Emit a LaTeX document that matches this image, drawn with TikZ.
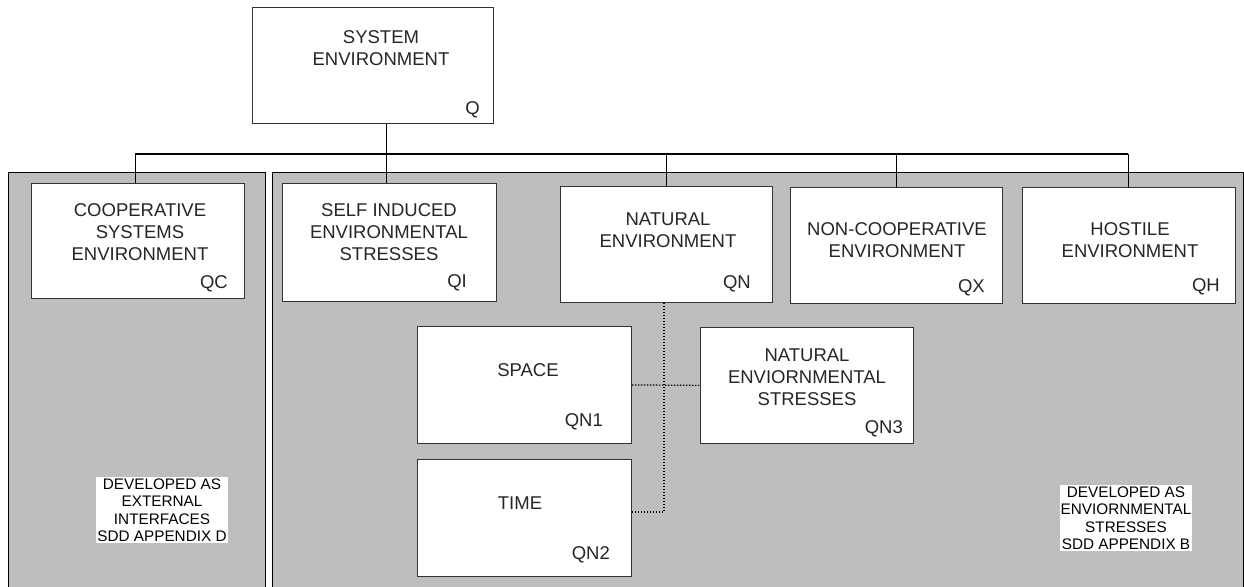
\documentclass[tikz,border=0pt]{standalone}
\usepackage{fontspec}
\setmainfont{Liberation Sans}
\definecolor{panelgray}{RGB}{190,190,190}
\begin{document}
\begin{tikzpicture}[x=1pt,y=-1pt,
  panel/.style={draw=black, line width=1pt, fill=panelgray},
  box/.style={draw=black!80, line width=0.8pt, fill=white, inner sep=0pt, anchor=north west},
  title/.style={font=\fontsize{18.5}{22}\selectfont, align=center, text=black!85, inner sep=0pt},
  code/.style={font=\fontsize{18.5}{22}\selectfont, text=black!85, inner sep=0pt, anchor=base east},
  note/.style={fill=white, font=\fontsize{15.3}{17.5}\selectfont, align=center, text=black, inner xsep=1pt, inner ysep=1.5pt},
  bus/.style={draw=black, line width=1.3pt},
  stem/.style={draw=black, line width=1pt},
  tree/.style={draw=black, line width=1.2pt, dash pattern=on 1.5pt off 1.5pt}]
\useasboundingbox (0,0) rectangle (1244,586);
\clip (0,0) rectangle (1244,586);
% background panels
\path[panel] (8,172) rectangle (265,600);
\path[panel] (272,172) rectangle (1243,600);
% boxes
\node[box, minimum width=241pt, minimum height=116pt] (Q)   at (252,7) {};
\node[box, minimum width=213pt, minimum height=115pt] (QC)  at (31,183) {};
\node[box, minimum width=214pt, minimum height=118pt] (QI)  at (282,183) {};
\node[box, minimum width=212pt, minimum height=116pt] (QN)  at (560,186) {};
\node[box, minimum width=212pt, minimum height=116pt] (QX)  at (790,187) {};
\node[box, minimum width=213pt, minimum height=116pt] (QH)  at (1022,187) {};
\node[box, minimum width=214pt, minimum height=117pt] (QN1) at (417,326) {};
\node[box, minimum width=214pt, minimum height=117pt] (QN2) at (417,459) {};
\node[box, minimum width=213pt, minimum height=116pt] (QN3) at (700,327) {};
% titles
\node[title] (tQ)   at (381,48)  {SYSTEM\\ENVIRONMENT};
\node[title] (tQC)  at (140,232) {COOPERATIVE\\SYSTEMS\\ENVIRONMENT};
\node[title] (tQI)  at (389,232) {SELF INDUCED\\ENVIRONMENTAL\\STRESSES};
\node[title] (tQN)  at (668,230) {NATURAL\\ENVIRONMENT};
\node[title] (tQX)  at (897,240) {NON-COOPERATIVE\\ENVIRONMENT};
\node[title] (tQH)  at (1130,240) {HOSTILE\\ENVIRONMENT};
\node[title] (tQN1) at (528,370) {SPACE};
\node[title] (tQN2) at (520,503) {TIME};
\node[title] (tQN3) at (807,377) {NATURAL\\ENVIORNMENTAL\\STRESSES};
% codes
\node[code] (cQ)   at (480,114) {Q};
\node[code] (cQC)  at (228,288) {QC};
\node[code] (cQI)  at (467,287) {QI};
\node[code] (cQN)  at (751,288) {QN};
\node[code] (cQX)  at (985,292) {QX};
\node[code] (cQH)  at (1220,291) {QH};
\node[code] (cQN1) at (603,426) {QN1};
\node[code] (cQN2) at (610,559) {QN2};
\node[code] (cQN3) at (903,433) {QN3};
% notes
\node[note] (nL) at (162,510) {DEVELOPED AS\\EXTERNAL\\INTERFACES\\SDD APPENDIX D};
\node[note] (nR) at (1126,518) {DEVELOPED AS\\ENVIORNMENTAL\\STRESSES\\SDD APPENDIX B};
% connectors
\coordinate (busL) at (135,154);
\coordinate (busR) at (1128,154);
\coordinate (qx) at (386,154);
\coordinate (tj) at (664,512);
\draw[bus] (busL) -- (busR);
\draw[stem] (qx |- Q.south) -- (qx |- QI.north);
\draw[stem] (busL) -- (busL |- QC.north);
\draw[stem] (QN.north |- busL) -- (QN.north);
\draw[stem] (QX.north |- busL) -- (QX.north);
\draw[stem] (busR) -- (busR |- QH.north);
\draw[tree] (tj |- QN.south) -- (tj) -- (tj -| QN2.east);
\draw[tree] (QN1.east) -- (QN3.west);
\end{tikzpicture}
\end{document}
